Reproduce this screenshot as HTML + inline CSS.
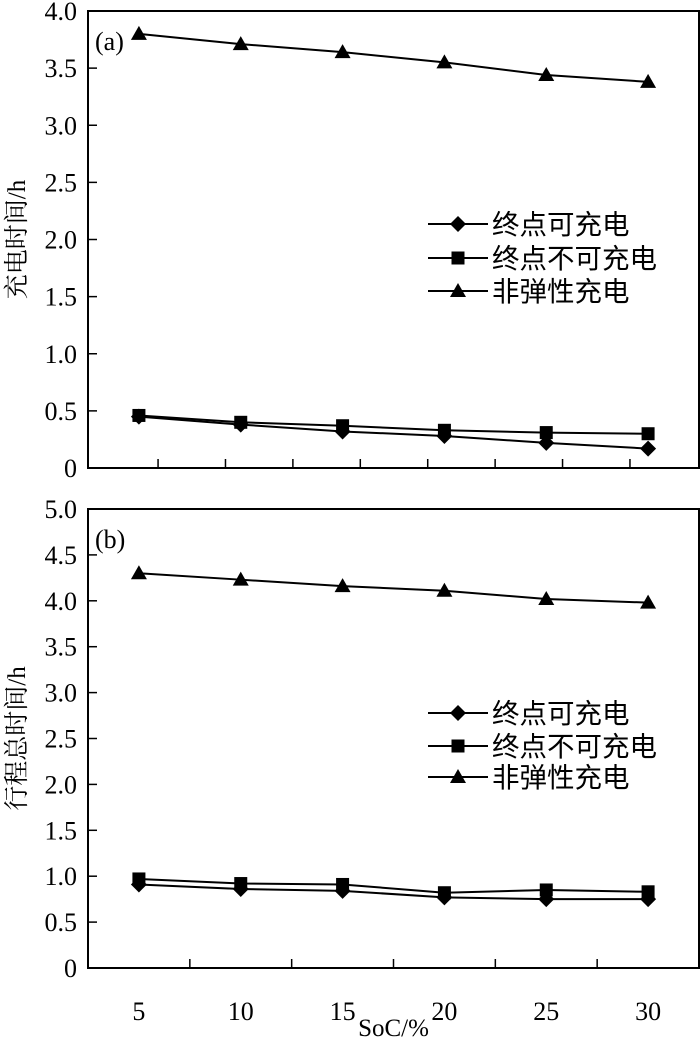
<!DOCTYPE html>
<html><head><meta charset="utf-8"><style>
html,body{margin:0;padding:0;background:#fff;}
svg text{font-family:"Liberation Serif","Noto Serif CJK SC",serif;fill:#000;}
.cjk{font-family:"Liberation Sans","Noto Sans CJK SC",sans-serif;}
</style></head><body>
<svg id="chart" width="700" height="1043" xmlns="http://www.w3.org/2000/svg"></svg>
<script>
const categories = [5, 10, 15, 20, 25, 30];
const seriesNames = ["终点可充电", "终点不可充电", "非弹性充电"];
const aDiamond = [0.45, 0.38, 0.32, 0.28, 0.22, 0.17];
const aSquare = [0.46, 0.40, 0.37, 0.33, 0.31, 0.30];
const aTriangle = [3.80, 3.71, 3.64, 3.55, 3.44, 3.38];
const bDiamond = [0.91, 0.86, 0.84, 0.77, 0.75, 0.75];
const bSquare = [0.97, 0.92, 0.91, 0.82, 0.85, 0.83];
const bTriangle = [4.30, 4.23, 4.16, 4.11, 4.02, 3.98];
const aYTicks = ["0", "0.5", "1.0", "1.5", "2.0", "2.5", "3.0", "3.5", "4.0"];
const bYTicks = ["0", "0.5", "1.0", "1.5", "2.0", "2.5", "3.0", "3.5", "4.0", "4.5", "5.0"];

const NS = "http://www.w3.org/2000/svg";
const svg = document.getElementById("chart");
function mk(tag, attrs, parent) {
  const e = document.createElementNS(NS, tag);
  for (const k in attrs) e.setAttribute(k, attrs[k]);
  (parent || svg).appendChild(e);
  return e;
}
const L = 88, R = 699;
const xScale = v => L + (v - 2.5) * (R - L) / 30;

function marker(g, type, x, y) {
  let m;
  if (type === "diamond") m = mk("polygon", {points: `${x},${y-8} ${x+8},${y} ${x},${y+8} ${x-8},${y}`, fill: "#000"}, g);
  else if (type === "square") m = mk("rect", {x: x-6.5, y: y-6.5, width: 13, height: 13, fill: "#000"}, g);
  else m = mk("polygon", {points: `${x},${y-8} ${x+8},${y+6} ${x-8},${y+6}`, fill: "#000"}, g);
  return m;
}

function panel(cfg) {
  const g = mk("g", {});
  
  
  const yScale = v => cfg.bottom - v * (cfg.bottom - cfg.top) / cfg.ymax;
  const frame = mk("rect", {x: L, y: cfg.top, width: R - L, height: cfg.bottom - cfg.top, fill: "none", stroke: "#000", "stroke-width": 2}, g);
  
  
  cfg.yTicks.forEach(t => {
    const y = yScale(parseFloat(t));
    mk("line", {x1: L, x2: L + 9, y1: y, y2: y, stroke: "#000", "stroke-width": 1.5}, g);
    const tx = mk("text", {x: 77, y: y + 9, "text-anchor": "end", "font-size": 26}, g);
    tx.textContent = t;
    
    
  });
  cfg.xTicks.forEach(v => {
    const x = xScale(v);
    mk("line", {x1: x, x2: x, y1: cfg.bottom, y2: cfg.bottom - 9, stroke: "#000", "stroke-width": 1.5}, g);
  });
  const yt = mk("text", {transform: `translate(25,${(cfg.top + cfg.bottom) / 2}) rotate(-90)`, "text-anchor": "middle", "font-size": 25}, g);
  yt.textContent = cfg.ytitle;
  
  
  const lab = mk("text", {x: 95, y: cfg.top + 39, "font-size": 26}, g);
  lab.textContent = cfg.label;
  
  
  const types = ["diamond", "square", "triangle"];
  cfg.series.forEach((arr, si) => {
    const sg = mk("g", {}, g);
    
    
    const pts = arr.map((v, i) => `${xScale(categories[i])},${yScale(v)}`).join(" ");
    mk("polyline", {points: pts, fill: "none", stroke: "#000", "stroke-width": 2}, sg);
    arr.forEach((v, i) => {
      const m = marker(sg, types[si], xScale(categories[i]), yScale(v));
      
      
    });
  });
  cfg.legendY.forEach((ly, si) => {
    const lg = mk("g", {}, g);
    
    
    mk("line", {x1: 428, x2: 488, y1: ly, y2: ly, stroke: "#000", "stroke-width": 2}, lg);
    marker(lg, types[si], 458, ly);
    const t = mk("text", {x: 492, y: ly + 10, "font-size": 27.5, class: "cjk"}, lg);
    t.textContent = seriesNames[si];
  });
  if (cfg.showX) {
    categories.forEach(c => {
      const t = mk("text", {x: xScale(c), y: cfg.bottom + 52, "text-anchor": "middle", "font-size": 26}, g);
      t.textContent = String(c);
      
      
    });
    const xt = mk("text", {x: xScale(17.5), y: cfg.bottom + 68, "text-anchor": "middle", "font-size": 25}, g);
    xt.textContent = "SoC/%";
    
    
  }
}
const topXTicks = [];
for (let i = 0; i < 8; i++) topXTicks.push(5.94 + i * 3.31);
panel({name: "panel-a", top: 11, bottom: 468, ymax: 4, yTicks: aYTicks, xTicks: topXTicks, ytitle: "充电时间/h", label: "(a)",
  series: [aDiamond, aSquare, aTriangle], legendY: [224, 258, 291], showX: false});
panel({name: "panel-b", top: 509, bottom: 968, ymax: 5, yTicks: bYTicks, xTicks: [7.5, 12.5, 17.5, 22.5, 27.5], ytitle: "行程总时间/h", label: "(b)",
  series: [bDiamond, bSquare, bTriangle], legendY: [713, 746, 777], showX: true});
</script>
</body></html>
